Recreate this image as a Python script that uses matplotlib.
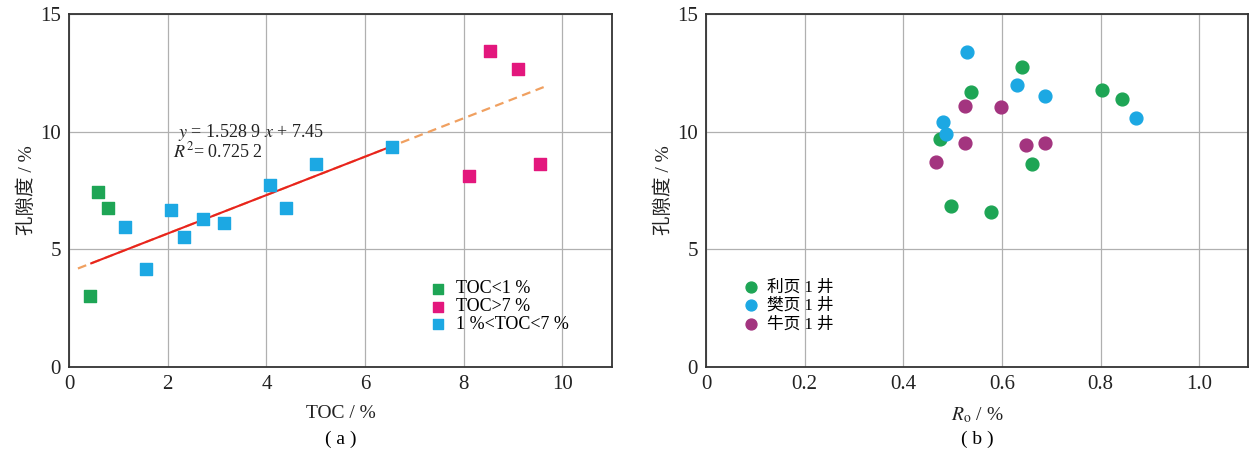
import matplotlib.pyplot as plt
import numpy as np

plt.rcParams['font.family'] = ['Liberation Serif', 'Noto Sans CJK SC']
plt.rcParams['mathtext.fontset'] = 'stix'

# (a) TOC vs porosity
toc_low_x = [0.42, 0.58, 0.78]
toc_low_y = [3.01, 7.46, 6.75]
toc_high_x = [8.53, 9.09, 8.10, 9.54]
toc_high_y = [13.42, 12.68, 8.14, 8.64]
toc_mid_x = [1.13, 1.56, 2.06, 2.32, 2.71, 3.14, 4.08, 4.39, 5.00, 6.55]
toc_mid_y = [5.94, 4.15, 6.68, 5.51, 6.28, 6.14, 7.73, 6.76, 8.61, 9.36]
fit_slope, fit_icpt = 0.817, 4.04
fit_solid = [0.45, 6.6]
fit_dash = [0.18, 9.62]

# (b) Ro vs porosity
li_x = [0.537, 0.640, 0.802, 0.843, 0.475, 0.660, 0.497, 0.578]
li_y = [11.68, 12.76, 11.77, 11.39, 9.69, 8.63, 6.83, 6.59]
fan_x = [0.530, 0.630, 0.688, 0.871, 0.480, 0.487]
fan_y = [13.38, 11.97, 11.51, 10.59, 10.42, 9.90]
niu_x = [0.526, 0.598, 0.526, 0.649, 0.687, 0.467]
niu_y = [11.09, 11.05, 9.52, 9.43, 9.52, 8.71]

c_green = '#1ea555'
c_mag = '#e3177d'
c_cyan = '#1ca8e3'
c_purp = '#a3347f'

fig = plt.figure(figsize=(12.51, 4.57), dpi=100)
ax1 = fig.add_axes([0.0552, 0.197, 0.4338, 0.772])
ax2 = fig.add_axes([0.5644, 0.197, 0.4336, 0.772])

for ax in (ax1, ax2):
    ax.set_ylim(0, 15)
    ax.set_yticks([0, 5, 10, 15])
    ax.grid(True, color='#b0b0b0', linewidth=0.9)
    ax.set_axisbelow(True)
    for s in ax.spines.values():
        s.set_color('#333333')
        s.set_linewidth(1.3)
    ax.tick_params(length=0, labelsize=15, colors='#222222', pad=6)
    ax.set_ylabel('孔隙度 / %', fontsize=14, color='#222222', labelpad=3)

# panel a
ax1.set_xlim(0, 11)
ax1.set_xticks([0, 2, 4, 6, 8, 10])
xd = np.array(fit_dash)
ax1.plot(xd, fit_slope * xd + fit_icpt, color='#f0a060', linestyle=(0, (4, 2.5)), linewidth=1.6)
xs = np.array(fit_solid)
ax1.plot(xs, fit_slope * xs + fit_icpt, color='#e8231e', linewidth=1.5)
ax1.scatter(toc_low_x, toc_low_y, marker='s', s=85, color=c_green, label='TOC<1 %', zorder=3)
ax1.scatter(toc_high_x, toc_high_y, marker='s', s=85, color=c_mag, label='TOC>7 %', zorder=3)
ax1.scatter(toc_mid_x, toc_mid_y, marker='s', s=85, color=c_cyan, label='1 %<TOC<7 %', zorder=3)
ax1.text(2.2, 9.95, r'$y$ = 1.528 9 $x$ + 7.45', fontsize=13, color='#222222', va='center')
ax1.text(2.1, 9.15, r'$R^2$= 0.725 2', fontsize=13, color='#222222', va='center')
ax1.legend(loc='lower right', bbox_to_anchor=(0.945, 0.06), frameon=False, fontsize=13,
           handletextpad=0.0, labelspacing=0.05, borderpad=0.2, markerscale=0.85)
ax1.set_xlabel('TOC / %', fontsize=14, color='#222222', labelpad=8)
ax1.text(0.5, -0.205, '( a )', transform=ax1.transAxes, ha='center', va='center', fontsize=14)

# panel b
ax2.set_xlim(0, 1.1)
ax2.set_xticks([0, 0.2, 0.4, 0.6, 0.8, 1.0])
ax2.set_xticklabels(['0', '0.2', '0.4', '0.6', '0.8', '1.0'])
ax2.scatter(li_x, li_y, marker='o', s=85, color=c_green, label='利页 1 井', zorder=3)
ax2.scatter(fan_x, fan_y, marker='o', s=85, color=c_cyan, label='樊页 1 井', zorder=3)
ax2.scatter(niu_x, niu_y, marker='o', s=85, color=c_purp, label='牛页 1 井', zorder=3)
ax2.legend(loc='lower left', bbox_to_anchor=(0.03, 0.065), frameon=False, fontsize=12,
           handletextpad=0.0, labelspacing=0.15, borderpad=0.2, markerscale=0.85)
ax2.set_xlabel(r'$R_{\rm o}$ / %', fontsize=14, color='#222222', labelpad=8)
ax2.text(0.5, -0.205, '( b )', transform=ax2.transAxes, ha='center', va='center', fontsize=14)

fig.savefig('out.png', dpi=100)
